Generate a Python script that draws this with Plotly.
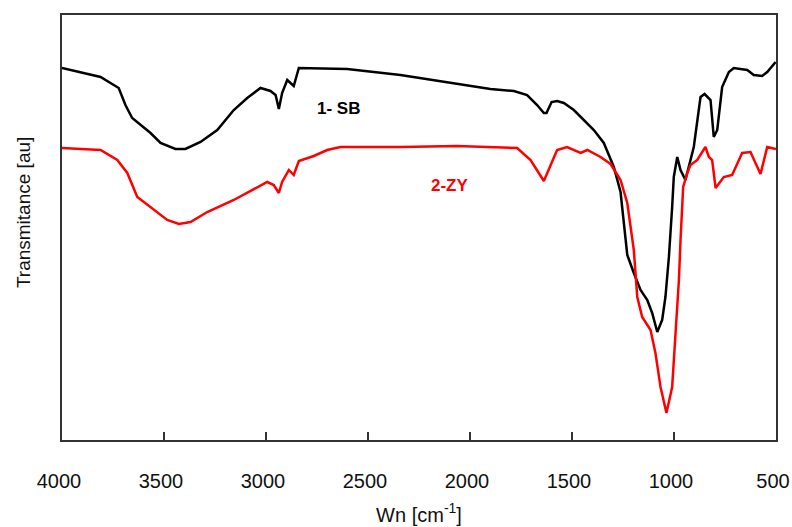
import plotly.graph_objects as go

# 1- SB (black) : wavenumber [cm-1], transmittance [au]
sb_wn = [4000, 3811, 3722, 3689, 3656, 3615, 3566, 3517, 3444, 3395, 3321, 3239, 3158, 3092,
         3027, 2978, 2953, 2937, 2921, 2896, 2864, 2839, 2602, 2341, 2112, 1900, 1785, 1720,
         1671, 1638, 1625, 1600, 1573, 1540, 1491, 1450, 1393, 1344, 1295, 1262, 1246, 1229,
         1197, 1164, 1131, 1107, 1082, 1058, 1042, 1025, 1009, 1001, 984, 968, 944, 927, 903,
         870, 850, 821, 805, 788, 764, 731, 707, 641, 609, 568, 543, 502]
sb_t = [372, 363, 352, 335, 322, 315, 307, 297, 291, 291, 298, 310, 330, 342,
        352, 349, 345, 331, 347, 360, 354, 372, 371, 365, 358, 351, 349, 345,
        335, 327, 327, 338, 339, 337, 330, 322, 310, 297, 273, 248, 217, 185,
        167, 150, 140, 127, 108, 120, 143, 183, 233, 263, 283, 270, 260, 273, 293,
        343, 346, 340, 303, 310, 353, 368, 372, 370, 365, 364, 368, 378]

# 2-ZY (red)
zy_wn = [4000, 3811, 3729, 3680, 3631, 3566, 3484, 3427, 3370, 3288, 3158, 2994, 2962, 2937,
         2921, 2888, 2864, 2839, 2766, 2700, 2635, 2341, 2063, 1769, 1703, 1638, 1605, 1573,
         1524, 1480, 1458, 1425, 1360, 1311, 1262, 1229, 1210, 1197, 1180, 1156, 1115, 1091,
         1066, 1037, 1009, 993, 976, 968, 955, 935, 919, 886, 846, 829, 813, 796, 756, 715,
         666, 625, 576, 543, 500]
zy_t = [292, 290, 280, 267, 243, 233, 220, 216, 218, 228, 240, 258, 255, 247,
        258, 270, 265, 279, 284, 290, 293, 293, 294, 292, 280, 259, 274, 290,
        293, 289, 287, 290, 283, 276, 260, 237, 207, 190, 143, 123, 110, 87,
        53, 27, 53, 100, 160, 200, 253, 267, 275, 280, 293, 283, 280, 252, 263, 265,
        287, 288, 266, 293, 291]

x_ticks = [4000, 3500, 3000, 2500, 2000, 1500, 1000, 500]

FONT = "Liberation Sans, Arial, sans-serif"

fig = go.Figure()
fig.add_trace(go.Scatter(x=sb_wn, y=sb_t, mode="lines", name="1- SB",
                         line=dict(color="#000000", width=2.5)))
fig.add_trace(go.Scatter(x=zy_wn, y=zy_t, mode="lines", name="2-ZY",
                         line=dict(color="#ff0000", width=2.5)))

fig.add_annotation(x=2645, y=332, text="<b>1- SB</b>", showarrow=False,
                   font=dict(family=FONT, size=17, color="#000000"))
fig.add_annotation(x=2096, y=255, text="<b>2-ZY</b>", showarrow=False,
                   font=dict(family=FONT, size=17, color="#ff0000"))

fig.add_annotation(xref="paper", yref="paper", x=-0.0546, y=0.534, text="Transmitance [au]",
                   textangle=-90, showarrow=False, xanchor="center", yanchor="middle",
                   font=dict(family=FONT, size=19, color="#111111"))

fig.update_xaxes(range=[4000, 500], tickvals=x_ticks, ticktext=[str(v) for v in x_ticks],
                 ticks="inside", ticklen=8, tickwidth=1.5, tickcolor="#333333",
                 ticklabelstandoff=22, ticklabeloverflow="allow", ticklabelshift=3,
                 showline=True, linecolor="#333333", linewidth=1.5, mirror=True,
                 showgrid=False, zeroline=False,
                 tickfont=dict(family=FONT, size=20, color="#111111"),
                 title=dict(text="Wn [cm<sup>-1</sup>]", font=dict(family=FONT, size=20, color="#111111"),
                            standoff=17))
fig.update_yaxes(range=[0, 425], showticklabels=False, ticks="",
                 showline=True, linecolor="#333333", linewidth=1.5, mirror=True,
                 showgrid=False, zeroline=False)

fig.update_layout(width=792, height=527, showlegend=False,
                  paper_bgcolor="white", plot_bgcolor="white",
                  margin=dict(l=62, r=16, t=15, b=87, autoexpand=False))

fig.write_html("out.html", config={"displayModeBar": False},
               post_script="document.body.style.margin='0';document.body.style.overflow='hidden';")
